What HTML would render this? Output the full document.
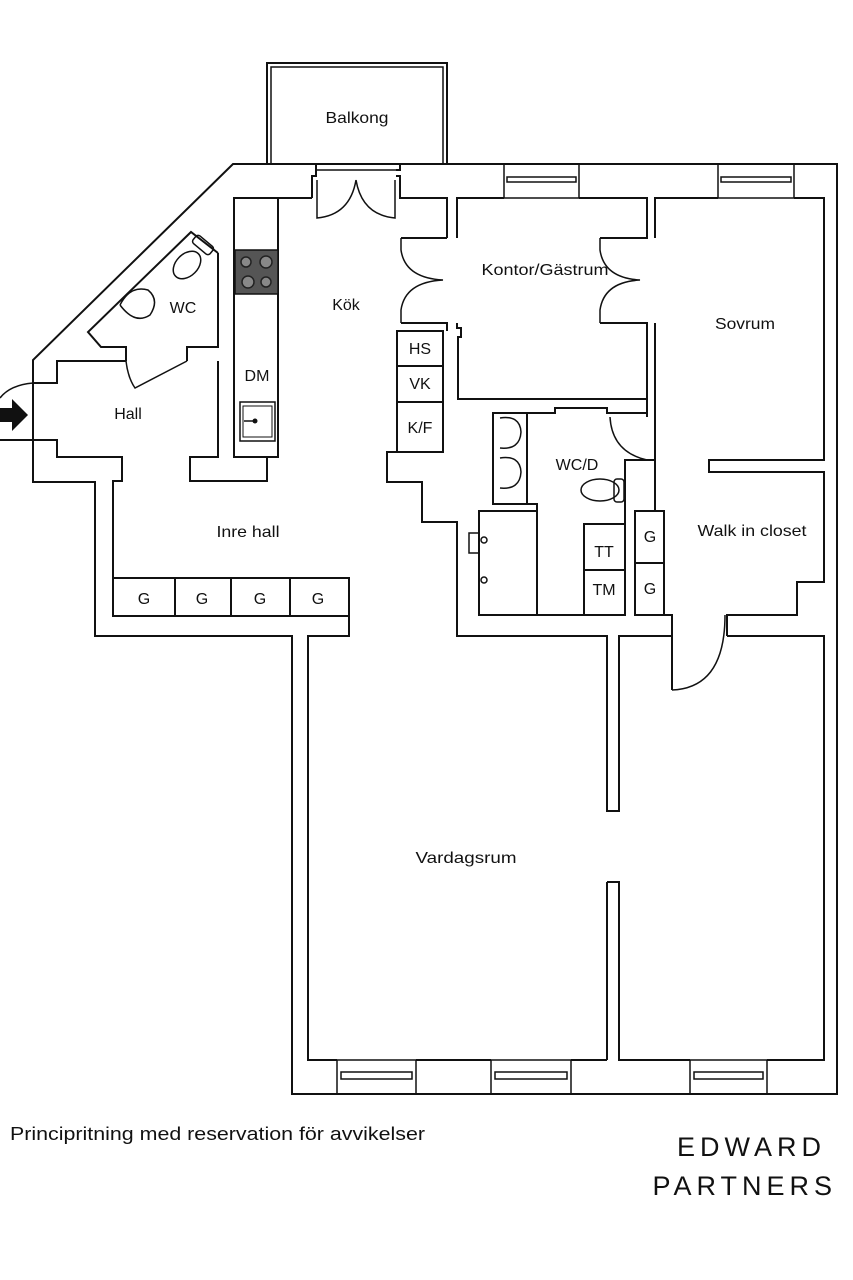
<!DOCTYPE html>
<html><head><meta charset="utf-8"><style>
html,body{margin:0;padding:0;background:#fff;}
svg{display:block;}
text{font-family:"Liberation Sans",sans-serif;fill:#111;}
</style></head><body>
<svg width="853" height="1280" viewBox="0 0 853 1280" xmlns="http://www.w3.org/2000/svg">
<g fill="none" stroke="#111" stroke-width="2" stroke-linejoin="miter">
<rect x="267" y="63" width="180" height="101"/>
<rect x="271" y="67" width="172" height="97" stroke-width="1.5"/>
<polyline points="312,198 312,176 316,176 316,164 233,164 33,360 33,482 95,482 95,636 292,636 292,1094 837,1094 837,164 400,164 400,170 396,170"/>
<polyline points="396,176 400,176 400,198 447,198 447,238"/>
<line x1="316" y1="170" x2="396" y2="170" stroke-width="1.5"/>
<path d="M317,180 L317,218 Q350,215 356,180 M395,180 L395,218 Q362,215 356,180" stroke-width="1.5"/>
<polyline points="234,198 312,198"/>
<rect x="234" y="198" width="44" height="259"/>
<rect x="240" y="402" width="35" height="39" stroke-width="1.5"/>
<rect x="243" y="406" width="29" height="31" stroke-width="1"/>
<polyline points="218,361 218,457 190,457 190,481 267,481 267,457"/>
<polyline points="126,361 57,361 57,383 33,383"/>
<polyline points="0,440 57,440 57,457 122,457 122,481 113,481 113,578"/>
<path d="M33,383 Q10,385 0,398" stroke-width="1.5"/>
<polyline points="218,253 191,232 88,332 101,347 126,347 126,361"/>
<polyline points="187,361 187,347 218,347 218,253"/>
<path d="M126,361 Q128,378 135,388 L187,361" stroke-width="1.5"/>
<rect x="113" y="578" width="236" height="38"/>
<line x1="175" y1="578" x2="175" y2="616"/>
<line x1="231" y1="578" x2="231" y2="616"/>
<line x1="290" y1="578" x2="290" y2="616"/>
<polyline points="349,616 349,636 308,636 308,1060 337,1060"/>
<polyline points="397,452 387,452 387,482 422,482 422,522 457,522 457,636 607,636 607,811 619,811 619,636 672,636"/>
<polyline points="607,882 619,882 619,1060 690,1060"/>
<line x1="607" y1="882" x2="607" y2="1060"/>
<polyline points="727,636 824,636 824,1060 767,1060"/>
<polyline points="416,1060 491,1060"/>
<polyline points="571,1060 607,1060"/>
<g stroke-width="1.5">
<rect x="337" y="1060" width="79" height="34"/><rect x="341" y="1072" width="71" height="7"/>
<rect x="491" y="1060" width="80" height="34"/><rect x="495" y="1072" width="72" height="7"/>
<rect x="690" y="1060" width="77" height="34"/><rect x="694" y="1072" width="69" height="7"/>
</g>
<g stroke-width="1.5">
<rect x="504" y="164" width="75" height="34"/><rect x="507" y="177" width="69" height="5"/>
<rect x="718" y="164" width="76" height="34"/><rect x="721" y="177" width="70" height="5"/>
</g>
<rect x="397" y="331" width="46" height="121"/>
<line x1="397" y1="366" x2="443" y2="366"/>
<line x1="397" y1="402" x2="443" y2="402"/>
<polyline points="447,238 401,238"/>
<polyline points="401,323 447,323 447,331"/>
<polyline points="457,238 457,198 504,198"/>
<polyline points="579,198 647,198 647,238 600,238"/>
<polyline points="600,323 647,323 647,399 458,399 458,337 461,337 461,328 457,328 457,323"/>
<path d="M401,238 L401,250 Q405,278 443,280 Q405,282 401,310 L401,323" stroke-width="1.5"/>
<path d="M600,238 L600,250 Q604,278 640,280 Q604,282 600,310 L600,323" stroke-width="1.5"/>
<polyline points="655,238 655,198 718,198"/>
<polyline points="794,198 824,198 824,460 709,460 709,472 824,472 824,582 797,582 797,615 727,615 727,636"/>
<polyline points="655,323 655,511"/>
<polyline points="664,615 672,615 672,690"/>
<path d="M672,690 Q725,688 725,615" stroke-width="1.5"/>
<polyline points="493,504 493,413 555,413 555,408 607,408 607,413 647,413"/>
<line x1="647" y1="399" x2="647" y2="417"/>
<rect x="493" y="413" width="34" height="91"/>
<path d="M625,615 L625,460 L655,460" />
<path d="M610,417 Q612,452 647,460" stroke-width="1.5"/>
<polyline points="527,504 537,504 537,511"/>
<path d="M479,511 L537,511 L537,615 L479,615 Z"/>
<rect x="469" y="533" width="10" height="20" stroke-width="1.5"/>
<polyline points="537,615 625,615"/>
<rect x="584" y="524" width="41" height="91"/>
<line x1="584" y1="570" x2="625" y2="570"/>
<rect x="635" y="511" width="29" height="104"/>
<line x1="635" y1="563" x2="664" y2="563"/>
<path d="M500,418 Q520,415 521,432 Q520,450 500,448" stroke-width="1.5"/>
<path d="M500,458 Q520,455 521,472 Q520,490 500,488" stroke-width="1.5"/>
<ellipse cx="600" cy="490" rx="19" ry="11" stroke-width="1.5"/>
<rect x="614" y="479" width="10" height="23" rx="3" stroke-width="1.5"/>
<ellipse cx="187" cy="265" rx="16" ry="11" transform="rotate(-45 187 265)" stroke-width="1.5"/>
<rect x="192" y="240" width="22" height="10" rx="3" transform="rotate(40 203 245)" stroke-width="1.5"/>
<path d="M120,305 Q130,285 148,290 Q160,300 150,315 Q135,325 120,305" stroke-width="1.5"/>
<circle cx="484" cy="540" r="3" stroke-width="1.5"/><circle cx="484" cy="580" r="3" stroke-width="1.5"/>
</g>
<rect x="235" y="250" width="43" height="44" fill="#555" stroke="#111" stroke-width="1.5"/>
<g fill="#888" stroke="#222" stroke-width="1.5">
<circle cx="246" cy="262" r="5"/><circle cx="266" cy="262" r="6"/>
<circle cx="248" cy="282" r="6"/><circle cx="266" cy="282" r="5"/>
</g>
<circle cx="255" cy="421" r="2.5" fill="#111"/>
<line x1="244" y1="421" x2="255" y2="421" stroke="#111" stroke-width="1.5"/>
<polygon points="0,408 12,408 12,399 28,415 12,431 12,422 0,422" fill="#111"/>
<g font-size="16" text-anchor="middle">
<text x="357" y="123" textLength="63" lengthAdjust="spacingAndGlyphs">Balkong</text>
<text x="346" y="310">Kök</text>
<text x="183" y="313">WC</text>
<text x="257" y="381">DM</text>
<text x="128" y="419">Hall</text>
<text x="248" y="537" textLength="63" lengthAdjust="spacingAndGlyphs">Inre hall</text>
<text x="420" y="354">HS</text>
<text x="420" y="389">VK</text>
<text x="420" y="433">K/F</text>
<text x="545" y="275" textLength="127" lengthAdjust="spacingAndGlyphs">Kontor/Gästrum</text>
<text x="745" y="329" textLength="60" lengthAdjust="spacingAndGlyphs">Sovrum</text>
<text x="577" y="470">WC/D</text>
<text x="604" y="557">TT</text>
<text x="604" y="595">TM</text>
<text x="650" y="542">G</text>
<text x="650" y="594">G</text>
<text x="752" y="536" textLength="109" lengthAdjust="spacingAndGlyphs">Walk in closet</text>
<text x="144" y="604">G</text>
<text x="202" y="604">G</text>
<text x="260" y="604">G</text>
<text x="318" y="604">G</text>
<text x="466" y="863" textLength="101" lengthAdjust="spacingAndGlyphs">Vardagsrum</text>
</g>
<text x="10" y="1140" font-size="18" textLength="415" lengthAdjust="spacingAndGlyphs">Principritning med reservation för avvikelser</text>
<text x="826" y="1156" font-size="27" text-anchor="end" letter-spacing="5">EDWARD</text>
<text x="837" y="1195" font-size="27" text-anchor="end" letter-spacing="5">PARTNERS</text>
</svg>
</body></html>
